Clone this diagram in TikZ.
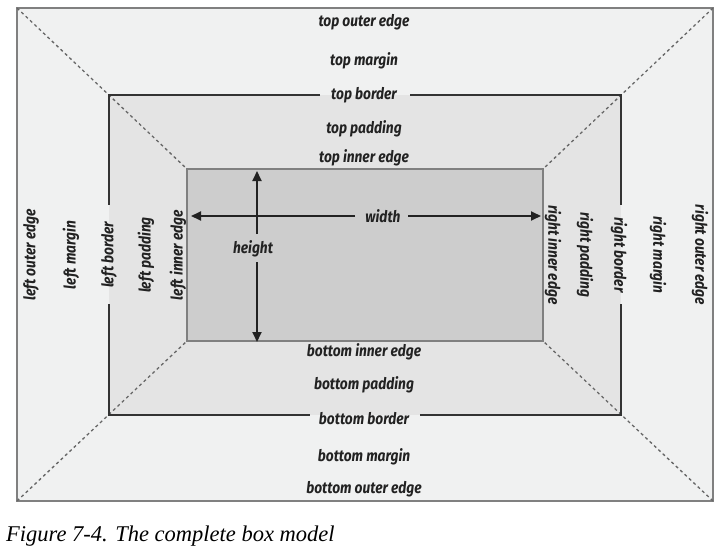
\documentclass[tikz,border=0pt]{standalone}
\usepackage{fontspec}
\usetikzlibrary{arrows.meta}
\newfontfamily\labfont[FakeStretch=0.86]{Fira Sans}
\setmainfont{Liberation Serif}
\definecolor{margincol}{HTML}{F0F1F1}
\definecolor{padcol}{HTML}{E4E4E4}
\definecolor{contcol}{HTML}{CDCDCD}
\definecolor{txtcol}{HTML}{222222}
\begin{document}
\begin{tikzpicture}[x=1pt,y=-1pt,
  lab/.style={font=\labfont\bfseries\itshape\fontsize{16}{16}\selectfont, text=txtcol, inner sep=0pt},
  labl/.style={lab, rotate=90},
  labr/.style={lab, rotate=-90},
  outeredge/.style={draw=black!50, line width=1.4pt},
  borderline/.style={draw=black!80, line width=2.2pt},
  inneredge/.style={draw=black!50, line width=1.4pt},
  diag/.style={draw=black!60, line width=1.3pt, dash pattern=on 3pt off 3pt},
  dimarrow/.style={draw=txtcol, line width=1.8pt, -{Triangle[length=10pt,width=9pt]}}]
\useasboundingbox (0,0) rectangle (725,551);
\fill[white] (0,0) rectangle (725,551);
% areas
\fill[margincol] (17,8) rectangle (713,501);
\fill[padcol] (109,95) rectangle (621,415);
\fill[contcol] (187,169) rectangle (543,341);
\draw[outeredge] (17,8) rectangle (713,501);
\draw[inneredge] (187,169) rectangle (543,341);
% corners
\coordinate (o1) at (17,8); \coordinate (o2) at (713,8);
\coordinate (o3) at (713,501); \coordinate (o4) at (17,501);
\coordinate (i1) at (187,169); \coordinate (i2) at (543,169);
\coordinate (i3) at (543,341); \coordinate (i4) at (187,341);
\draw[diag] (o1) -- (i1);
\draw[diag] (o2) -- (i2);
\draw[diag] (o3) -- (i3);
\draw[diag] (o4) -- (i4);
% border with gaps
\draw[borderline] (320,95) -- (109,95) -- (109,205);
\draw[borderline] (109,304) -- (109,415) -- (310,415);
\draw[borderline] (410,95) -- (621,95) -- (621,205);
\draw[borderline] (621,304) -- (621,415) -- (420,415);
% top/bottom labels
\node[lab] (tout) at (364,22) {top outer edge};
\node[lab] (tmar) at (364,61) {top margin};
\node[lab] (tbor) at (364,95) {top border};
\node[lab] (tpad) at (364,129) {top padding};
\node[lab] (tin) at (364,158) {top inner edge};
\node[lab] (bin) at (364,352) {bottom inner edge};
\node[lab] (bpad) at (364,385) {bottom padding};
\node[lab] (bbor) at (364,419) {bottom border};
\node[lab] (bmar) at (364,457) {bottom margin};
\node[lab] (bout) at (364,489) {bottom outer edge};
% left labels
\node[labl] (lout) at (31,255) {left outer edge};
\node[labl] (lmar) at (71,255) {left margin};
\node[labl] (lbor) at (109,255) {left border};
\node[labl] (lpad) at (146,255) {left padding};
\node[labl] (lin) at (178,255) {left inner edge};
% right labels
\node[labr] (rin) at (553,255) {right inner edge};
\node[labr] (rpad) at (585,255) {right padding};
\node[labr] (rbor) at (619,255) {right border};
\node[labr] (rmar) at (658,255) {right margin};
\node[labr] (rout) at (700,255) {right outer edge};
% dimensions
\node[lab] (wid) at (383,216) {width};
\node[lab] (hei) at (253,249) {height};
\coordinate (wl) at (191,216); \coordinate (wr) at (541,216);
\coordinate (ht) at (257,171); \coordinate (hb) at (257,342);
\coordinate (wls) at (355,216); \coordinate (wrs) at (408,216);
\coordinate (hts) at (257,234); \coordinate (hbs) at (257,262);
\draw[dimarrow] (wls) -- (wl);
\draw[dimarrow] (wrs) -- (wr);
\draw[dimarrow] (hts) -- (ht);
\draw[dimarrow] (hbs) -- (hb);
% caption
\node[anchor=base west, inner sep=0pt, font=\itshape\fontsize{22.5}{22.5}\selectfont] (cap) at (6,541) {Figure 7-4. The complete box model};
\end{tikzpicture}
\end{document}
